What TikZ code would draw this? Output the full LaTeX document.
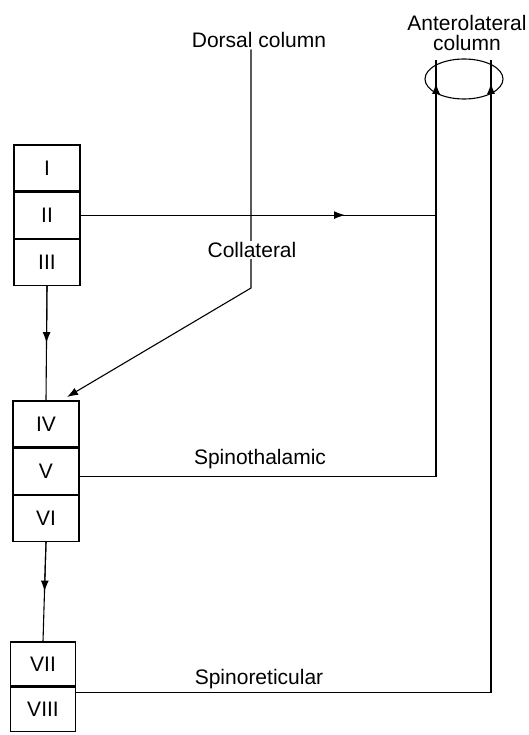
\documentclass[tikz,border=0pt]{standalone}
\usepackage{fontspec}
\setmainfont{Liberation Sans}
\usetikzlibrary{positioning,arrows.meta,calc,shapes.geometric}

\begin{document}
\begin{tikzpicture}[x=1pt,y=-1pt,line width=1.1pt,
    lam/.style={draw,minimum width=66pt,minimum height=46pt,inner sep=0pt},
    lbl/.style={inner sep=1pt},
    tip/.tip={Latex[length=11pt,width=8pt]},
    font=\fontsize{21}{20}\selectfont]
      \useasboundingbox (0,0) rectangle (529,735);
      % Laminae
      \node[lam] (lamI) at (47,168) {I};
      \node[lam,below=0pt of lamI] (lamII) {II};
      \node[lam,below=0pt of lamII] (lamIII) {III};
      \node[lam] (lamIV) at (46,424) {IV};
      \node[lam,below=0pt of lamIV] (lamV) {V};
      \node[lam,below=0pt of lamV] (lamVI) {VI};
      \node[lam,minimum width=65pt,minimum height=44pt] (lamVII) at (43,664) {VII};
      \node[lam,minimum width=65pt,minimum height=44pt,below=0pt of lamVII] (lamVIII) {VIII};
      % Anterolateral column
      \node[draw,ellipse,minimum width=78pt,minimum height=40pt] (alcol) at (464,79) {};
      \node[lbl,align=center] (alname) at (467,33) {Anterolateral\\column};
      \coordinate (alL) at (436,60);
      \coordinate (alR) at (491,60);
      % Dorsal column
      \node[lbl] (dorsal) at (259,40) {Dorsal column};
      \coordinate (bend) at (251,288);
      \coordinate (collend) at (67,397);
      \draw[-tip] (dorsal.south -| bend) -- (bend) -- (collend);
      \node[lbl,fill=white] (coll) at (252,250) {Collateral};
      % Pathways between laminae
      \draw (lamIII.south) -- (lamIV.north);
      \draw[-tip] (lamIII.south) -- ($(lamIII.south)!0.5!(lamIV.north)$);
      \draw (lamVI.south) -- (lamVII.north);
      \draw[-tip] (lamVI.south) -- ($(lamVI.south)!0.5!(lamVII.north)$);
      % Lamina II to anterolateral column
      \coordinate (iibend) at (alL |- lamII.east);
      \draw (lamII.east) -- (iibend) -- (alL);
      \draw[-tip] (lamII.east) -- (lamII.east -| 345,0);
      \draw[-tip] (iibend) -- (436,83);
      % Spinothalamic
      \coordinate (vout) at ([yshift=-5pt]lamV.east);
      \draw (vout) -- (alL |- vout) -- (iibend);
      % Spinoreticular
      \coordinate (viiout) at ([yshift=-6pt]lamVIII.north east);
      \draw (viiout) -- (alR |- viiout) -- (alR);
      \draw[-tip] (alR |- viiout) -- (491,83);
      % Labels
      \node[lbl] (spth) at (260,459) {Spinothalamic};
      \node[lbl] (sprt) at (259,679) {Spinoreticular};
\end{tikzpicture}
\end{document}
